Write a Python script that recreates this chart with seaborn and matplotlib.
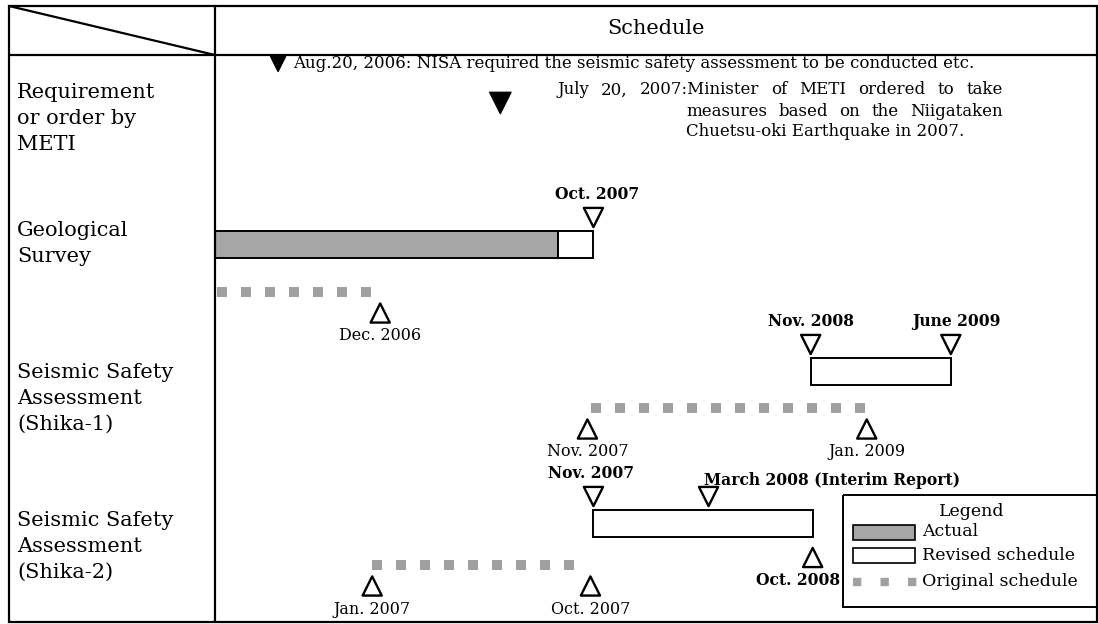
import matplotlib
matplotlib.use("Agg")
import matplotlib.pyplot as plt
import seaborn as sns
import pandas as pd
from matplotlib.patches import Rectangle

# ------------------------------------------------------------------ data
header_right = "Schedule"
row_names = ["METI", "Geological Survey", "Shika-1", "Shika-2"]
row_labels = ["Requirement\nor order by\nMETI",
              "Geological\nSurvey",
              "Seismic Safety\nAssessment\n(Shika-1)",
              "Seismic Safety\nAssessment\n(Shika-2)"]

# schedule positions, in chart months from the left edge of the schedule column
bar_rows = ["Geological Survey", "Geological Survey", "Shika-1", "Shika-2"]
bar_kind = ["Actual", "Revised schedule", "Revised schedule", "Revised schedule"]
bar_start = [0.0, 17.15, 29.75, 18.9]
bar_end = [17.15, 18.9, 36.75, 29.85]

orig_rows = ["Geological Survey", "Shika-1", "Shika-2"]
orig_start = [0.1, 18.8, 7.85]
orig_end = [7.8, 32.6, 18.5]

ms_rows = ["Geological Survey", "Geological Survey",
           "Shika-1", "Shika-1", "Shika-1", "Shika-1",
           "Shika-2", "Shika-2", "Shika-2", "Shika-2", "Shika-2"]
ms_labels = ["Oct. 2007", "Dec. 2006",
             "Nov. 2008", "June 2009", "Nov. 2007", "Jan. 2009",
             "Nov. 2007", "March 2008 (Interim Report)", "Oct. 2008",
             "Jan. 2007", "Oct. 2007"]
ms_pos = [18.9, 8.25,
          29.75, 36.75, 18.6, 32.55,
          18.9, 24.65, 29.85, 7.85, 18.75]
ms_kind = ["revised", "original",
           "revised", "revised", "original", "original",
           "revised", "revised", "revised", "original", "original"]
ms_dir = ["down", "up",
          "down", "down", "up", "up",
          "down", "down", "up", "up", "up"]

meti_pos = [3.15, 14.25]
meti_text1 = "Aug.20, 2006: NISA required the seismic safety assessment to be conducted etc."
meti_text2_lines = ["July 20, 2007:Minister of METI ordered to take",
                    "measures based on the Niigataken",
                    "Chuetsu-oki Earthquake in 2007."]

legend_title = "Legend"
legend_items = ["Actual", "Revised schedule", "Original schedule"]

# ------------------------------------------------------------------ layout / style
W, H = 1098, 624
TABLE = dict(left=9, right=1097, top=6, bottom=622, head=55, div=215)
ROW_LABEL_Y = {"METI": 93, "Geological Survey": 231, "Shika-1": 373, "Shika-2": 521}
LINE_STEP = 25.5
BAR_Y = {"Geological Survey": 244, "Shika-1": 371, "Shika-2": 523}
ORIG_Y = {"Geological Survey": 292, "Shika-1": 408, "Shika-2": 565}
BAR_H = 27
FILL = {"Actual": "#a6a6a6", "Revised schedule": "white"}
ORIG_COLOR = "#a0a0a0"
LABEL_SHIFT = {"Oct. 2008": -0.75, "Nov. 2007": -0.1, "June 2009": 0.3,
               "Oct. 2007": 0.2}
BOLD_SIZE = 11.2
NORMAL_SIZE = 11.5

sns.set_theme(style="white")
plt.rcParams["font.family"] = ["DejaVu Serif"]
plt.rcParams["text.color"] = "black"

fig = plt.figure(figsize=(W / 100, H / 100), dpi=100)
ax = fig.add_axes([TABLE["div"] / W, 0, (W - TABLE["div"]) / W, 1])
ax.set_xlim(0, 44.1)
ax.set_ylim(H, 0)
ax.axis("off")
ov = fig.add_axes([0, 0, 1, 1], zorder=5)
ov.set_xlim(0, W)
ov.set_ylim(H, 0)
ov.axis("off")
ov.patch.set_alpha(0)

# ---- table frame
lw = 1.6
ov.add_patch(Rectangle((TABLE["left"], TABLE["top"]), TABLE["right"] - TABLE["left"],
                       TABLE["bottom"] - TABLE["top"], fill=False, lw=lw, ec="black"))
ov.plot([TABLE["left"], TABLE["right"]], [TABLE["head"]] * 2, color="black", lw=lw)
ov.plot([TABLE["div"]] * 2, [TABLE["top"], TABLE["bottom"]], color="black", lw=lw)
ov.plot([TABLE["left"], TABLE["div"]], [TABLE["top"], TABLE["head"]], color="black", lw=lw)
ov.text((TABLE["div"] + TABLE["right"]) / 2, 29, header_right, fontsize=15,
        ha="center", va="center")

for name, lab in zip(row_names, row_labels):
    for i, line in enumerate(lab.split("\n")):
        ov.text(17, ROW_LABEL_Y[name] + i * LINE_STEP, line, fontsize=15,
                ha="left", va="center")

# ---- bars
for r, k, s, e in zip(bar_rows, bar_kind, bar_start, bar_end):
    ax.barh(BAR_Y[r], e - s, left=s, height=BAR_H, color=FILL[k],
            edgecolor="black", linewidth=1.4, zorder=3)

# ---- original schedule (dotted squares)
for r, s, e in zip(orig_rows, orig_start, orig_end):
    ax.plot([s, e], [ORIG_Y[r]] * 2, color=ORIG_COLOR, lw=7.2,
            linestyle=(0, (1, 1.4)), dash_capstyle="butt", zorder=3)

# ---- milestones
tri_y, lab_y = [], []
for r, k, d in zip(ms_rows, ms_kind, ms_dir):
    if d == "down":
        top = BAR_Y[r] - BAR_H / 2
        tri_y.append(top - 13)
        lab_y.append(top - 36)
    else:
        anchor = BAR_Y[r] + BAR_H / 2 if k == "revised" else ORIG_Y[r]
        tri_y.append(anchor + 21)
        lab_y.append(anchor + 44)

ms_df = pd.DataFrame({"pos": ms_pos, "y": tri_y, "dir": ms_dir})
sns.scatterplot(data=ms_df, x="pos", y="y", style="dir",
                markers={"down": "v", "up": "^"}, s=190, color="white",
                edgecolor="black", linewidth=1.7, legend=False, ax=ax, zorder=4)
for lab, p, y, k in zip(ms_labels, ms_pos, lab_y, ms_kind):
    bold = k == "revised"
    if lab.startswith("March"):
        ax.text(p - 0.25, y + 7, lab, fontsize=BOLD_SIZE, fontweight="bold",
                ha="left", va="center")
    else:
        shift = LABEL_SHIFT.get(lab, 0.0) if bold else 0.0
        ax.text(p + shift, y, lab, fontsize=BOLD_SIZE if bold else NORMAL_SIZE,
                fontweight="bold" if bold else "normal", ha="center", va="center")

# ---- METI requirement / order
meti_df = pd.DataFrame({"pos": meti_pos, "y": [64, 103], "size": [120, 240]})
sns.scatterplot(data=meti_df, x="pos", y="y", size="size", sizes=(120, 240),
                marker="v", color="black", edgecolor="black", legend=False,
                ax=ax, zorder=4)
ax.text(meti_pos[0] + 0.75, 63, meti_text1, fontsize=12, ha="left", va="center")

renderer = fig.canvas.get_renderer()


def justify(words, x0, x1, y, **kw):
    ts = [ov.text(0, y, w, ha="left", va="center", **kw) for w in words]
    inv = ov.transData.inverted()
    widths = []
    for t in ts:
        bb = t.get_window_extent(renderer)
        a = inv.transform((bb.x0, 0))[0]
        b = inv.transform((bb.x1, 0))[0]
        widths.append(b - a)
    gap = (x1 - x0 - sum(widths)) / max(len(words) - 1, 1)
    x = x0
    for t, w in zip(ts, widths):
        t.set_x(x)
        x += w + gap


justify(meti_text2_lines[0].split(), 557, 1003, 90, fontsize=12)
justify(meti_text2_lines[1].split(), 686, 1003, 111, fontsize=12)
ov.text(686, 131, meti_text2_lines[2], fontsize=12, ha="left", va="center")

# ---- legend
ov.add_patch(Rectangle((843, 495), 260, 112, fill=False, ec="black", lw=1.4))
ov.text(972, 512, legend_title, fontsize=12.5, ha="center", va="center")
ov.add_patch(Rectangle((853, 525), 62, 15, fc=FILL["Actual"], ec="black", lw=1.2))
ov.add_patch(Rectangle((853, 548), 62, 15, fc=FILL["Revised schedule"], ec="black", lw=1.2))
ov.plot([853, 917], [582, 582], color=ORIG_COLOR, lw=6, linestyle=(0, (1, 2.3)),
        dash_capstyle="butt")
for txt, y in zip(legend_items, [532, 555, 581]):
    ov.text(922, y, txt, fontsize=12.5, ha="left", va="center")

fig.savefig("out.png", dpi=100)
